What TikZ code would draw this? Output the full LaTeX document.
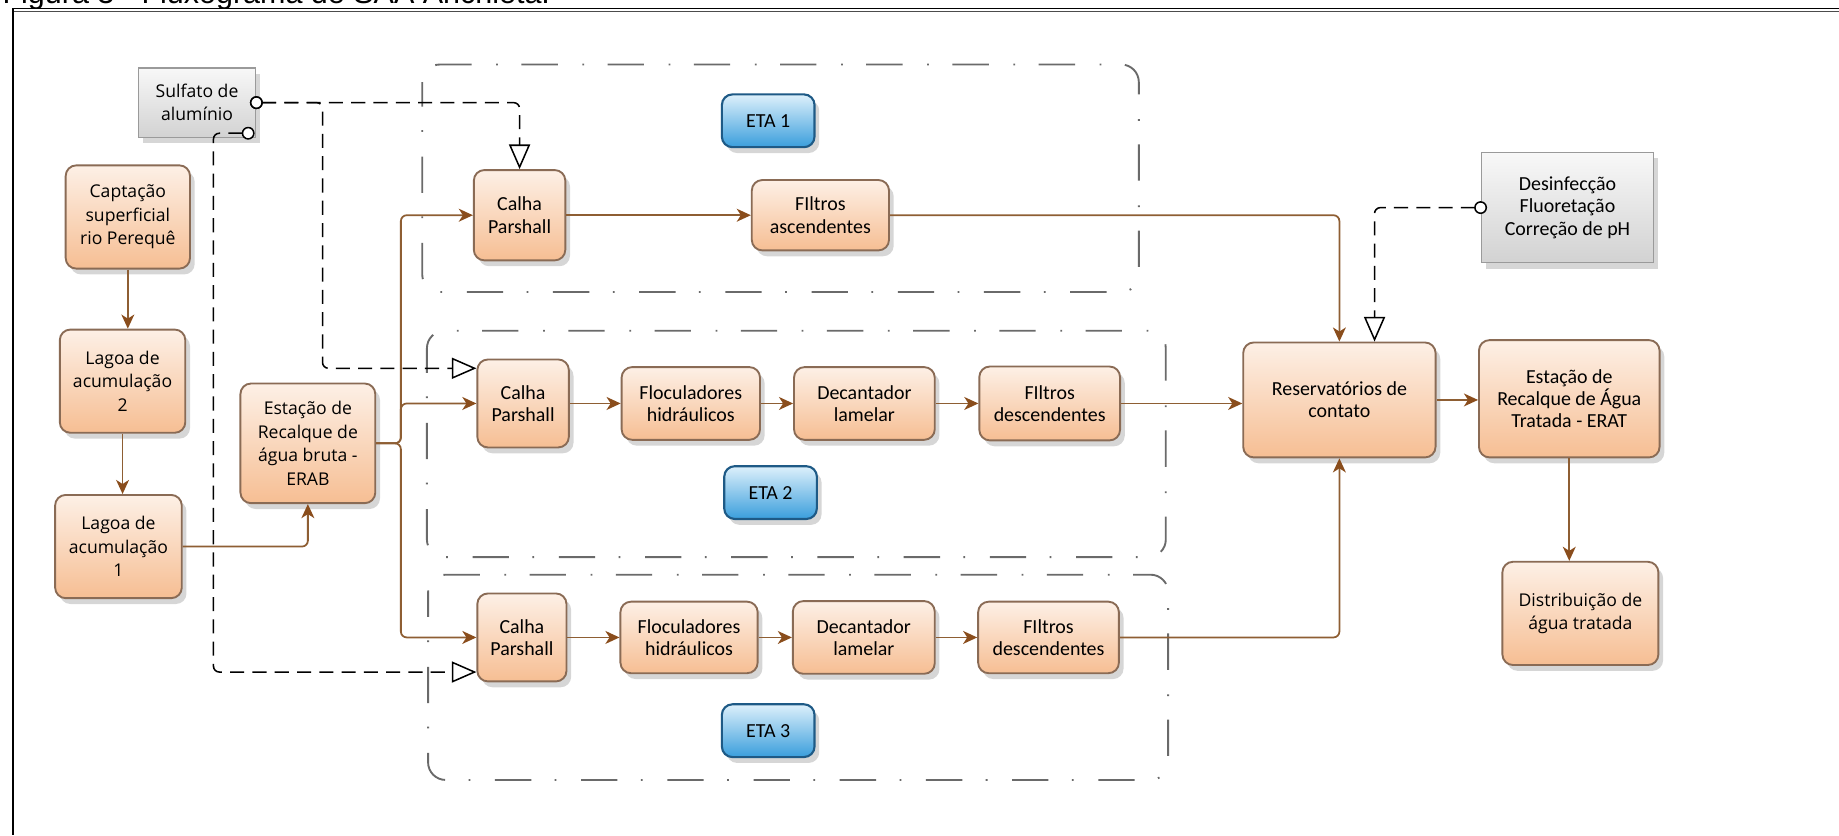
\documentclass[tikz,border=0pt]{standalone}
\usepackage{fontspec}
\setmainfont{Open Sans}
\newfontfamily\narrowfont{Carlito}
\newfontfamily\titlefont{Liberation Sans}
\usetikzlibrary{arrows.meta,shadows,calc}

\definecolor{boxline}{HTML}{8A6B55}
\definecolor{boxtop}{HTML}{FDF0E6}
\definecolor{boxbot}{HTML}{F6BE93}
\definecolor{flowcol}{HTML}{8E5E33}
\definecolor{tipcol}{HTML}{8A4D1C}
\definecolor{etaline}{HTML}{1E5A86}
\definecolor{etatop}{HTML}{DDF0FB}
\definecolor{etabot}{HTML}{3A9EDC}
\definecolor{grayline}{HTML}{9A9A9A}
\definecolor{graytop}{HTML}{F8F8F8}
\definecolor{graybot}{HTML}{D2D2D2}
\definecolor{groupline}{HTML}{6A6A6A}

\tikzset{
  x=1pt, y=-1pt,
  softshadow/.style={drop shadow={shadow xshift=4pt, shadow yshift=-5pt, opacity=0.16, fill=black}},
  proc/.style={draw=boxline, line width=1.6pt, rounded corners=9pt,
    top color=boxtop, bottom color=boxbot, align=center, inner sep=1pt, softshadow},
  supply/.style={draw=grayline, line width=1.2pt,
    top color=graytop, bottom color=graybot, align=center, inner sep=1pt, softshadow},
  etalabel/.style={draw=etaline, line width=1.8pt, rounded corners=9pt,
    top color=etatop, bottom color=etabot, align=center,
    minimum width=79pt, minimum height=45pt, softshadow,
    font=\narrowfont\fontsize{17}{19}\selectfont},
  wide/.style={font=\fontsize{15}{20}\selectfont},
  narrow/.style={font=\narrowfont\fontsize{17}{19}\selectfont},
  sz/.style 2 args={minimum width=#1pt, minimum height=#2pt},
  flow/.style={draw=flowcol, line width=1.5pt, rounded corners=5pt,
    -{Stealth[length=12pt, width=11pt, inset=3.5pt, color=tipcol]}},
  dose/.style={draw=black, line width=1.3pt, dash pattern=on 12pt off 7pt,
    rounded corners=5pt,
    {Circle[open, length=11pt, width=11pt, line width=1.3pt, fill=white]}-{Triangle[open, length=21pt, width=18pt, line width=1.3pt, fill=white]}},
  plant/.style={draw=groupline, line width=1.6pt, rounded corners=15pt,
    dash pattern=on 31pt off 20pt on 1.5pt off 21pt, dash phase=10pt},
}

\begin{document}
\begin{tikzpicture}
\useasboundingbox (0,0) rectangle (1568,712);

% caption above the frame (only its lower part falls on the page)
\node[anchor=base west, inner sep=0, font=\titlefont\fontsize{26}{28}\selectfont] (caption) at (2,3) {Figura 3 - Fluxograma de SAA Anchieta.};
% page frame
\fill[white] (11,7) rectangle (1568,712);
\draw[line width=1.2pt] (11,7) -- (1568,7);
\draw[line width=1pt, black!70] (11,9.6) -- (1568,9.6);
\draw[line width=1.2pt] (11,7) -- (11,712);

% treatment plant groups
\draw[plant] (360,55) rectangle (971,249);
\draw[plant] (364,282) rectangle (994,475);
\draw[plant] (365,490) rectangle (996,665);

% raw water intake
\node[supply, sz={100}{59}, wide] (sulf) at (168,87.5) {Sulfato de\\alumínio};
\node[proc, sz={106}{88}, wide] (capt) at (109,185) {Captação\\superficial\\rio Perequê};
\node[proc, sz={107}{88}, wide] (lag2) at (104.5,325) {Lagoa de\\acumulação\\2};
\node[proc, sz={108}{88}, wide] (lag1) at (101,466) {Lagoa de\\acumulação\\1};
\node[proc, sz={115}{102}, wide] (erab) at (262.5,378) {Estação de\\Recalque de\\água bruta -\\ERAB};

% ETA 1
\node[proc, sz={78}{77}, narrow] (calha1) at (443,183.5) {Calha\\Parshall};
\node[proc, sz={117}{60}, narrow] (filasc) at (699.5,183.5) {FIltros\\ascendentes};
\node[etalabel] (eta1) at (655,103) {ETA 1};

% ETA 2
\node[proc, sz={78}{75}, narrow] (calha2) at (446,344) {Calha\\Parshall};
\node[proc, sz={118}{62}, narrow] (floc2) at (589,344) {Floculadores\\hidráulicos};
\node[proc, sz={120}{62}, narrow] (dec2) at (737,344) {Decantador\\lamelar};
\node[proc, sz={120}{63}, narrow] (filt2) at (895,344) {FIltros\\descendentes};
\node[etalabel] (eta2) at (657,420) {ETA 2};

% ETA 3
\node[proc, sz={76}{75}, narrow] (calha3) at (445,543.5) {Calha\\Parshall};
\node[proc, sz={117}{61}, narrow] (floc3) at (587.5,543.5) {Floculadores\\hidráulicos};
\node[proc, sz={121}{62}, narrow] (dec3) at (736.5,543.5) {Decantador\\lamelar};
\node[proc, sz={120}{61}, narrow] (filt3) at (894,543.5) {FIltros\\descendentes};
\node[etalabel] (eta3) at (655,623) {ETA 3};

% treated water
\node[supply, sz={147}{94}, narrow] (desinf) at (1336.5,177) {Desinfecção\\Fluoretação\\Correção de pH};
\node[proc, sz={164}{98}, narrow] (resv) at (1142,341) {Reservatórios de\\contato};
\node[proc, sz={154}{100}, narrow] (erat) at (1338,340) {Estação de\\Recalque de Água\\Tratada - ERAT};
\node[proc, sz={133}{88}, wide] (dist) at (1347.5,523) {Distribuição de\\água tratada};

% bend points of the dosing lines
\coordinate (bendA) at (275,200);
\coordinate (bendB) at (182,300);
\coordinate (split) at ([xshift=21pt]erab.east);

% water flow
\draw[flow] (capt.south) -- (capt.south |- lag2.north);
\draw[flow] (lag2.south) -- (lag2.south |- lag1.north);
\draw[flow] (lag1.east) -| (erab.south);
\draw[flow] (erab.east) -- (split) |- (calha1.west);
\draw[flow] (erab.east) -- (split) |- (calha2.west);
\draw[flow] (erab.east) -- (split) |- (calha3.west);
\draw[flow] (calha1.east) -- (filasc.west);
\draw[flow] (filasc.east) -| (resv.north);
\draw[flow] (calha2.east) -- (floc2.west);
\draw[flow] (floc2.east) -- (dec2.west);
\draw[flow] (dec2.east) -- (filt2.west);
\draw[flow] (filt2.east) -- (filt2.east -| resv.west);
\draw[flow] (calha3.east) -- (floc3.west);
\draw[flow] (floc3.east) -- (dec3.west);
\draw[flow] (dec3.east) -- (filt3.west);
\draw[flow] (filt3.east) -| (resv.south);
\draw[flow] (resv.east) -- (resv.east -| erat.west);
\draw[flow] (erat.south) -- (erat.south |- dist.north);

% chemical dosing
\draw[dose] ([xshift=-5.5pt]sulf.east) -| (calha1.north);
\draw[dose] ([xshift=-5.5pt]sulf.east) -| (bendA) |- ([yshift=30pt]calha2.west);
\draw[dose] ([xshift=-1.5pt,yshift=4pt]sulf.south east) -| (bendB) |- ([yshift=-29.5pt]calha3.west);
\draw[dose] ([xshift=5.5pt]desinf.west) -| ([xshift=30pt]resv.north);
\end{tikzpicture}
\end{document}
